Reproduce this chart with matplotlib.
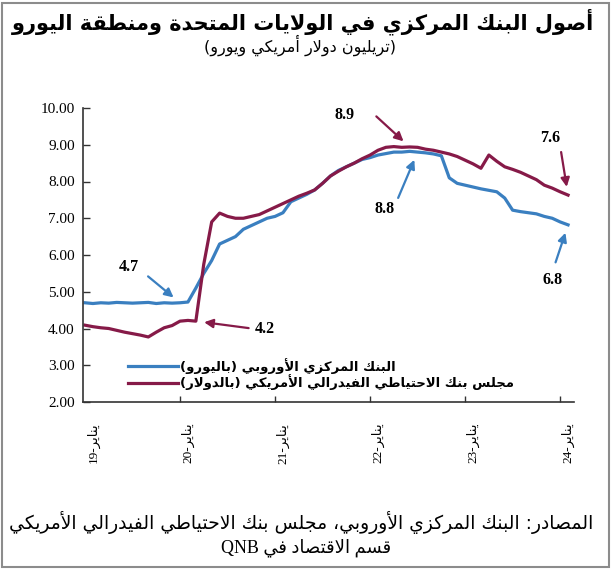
import re
import matplotlib
matplotlib.use('Agg')
import matplotlib.pyplot as plt
from matplotlib.patches import Rectangle

# --- data (trillions, monthly Jan-2019 .. Feb-2024) ---
ecb = [4.70, 4.68, 4.70, 4.69, 4.71, 4.70, 4.69, 4.70, 4.71, 4.68, 4.70, 4.69,
       4.70, 4.72, 5.10, 5.50, 5.85, 6.30, 6.40, 6.50, 6.70, 6.80, 6.90, 7.00,
       7.05, 7.15, 7.45, 7.55, 7.65, 7.77, 7.95, 8.15, 8.30, 8.40, 8.50, 8.60,
       8.65, 8.72, 8.76, 8.80, 8.80, 8.82, 8.80, 8.78, 8.75, 8.70, 8.10, 7.95,
       7.90, 7.85, 7.80, 7.76, 7.72, 7.55, 7.22, 7.18, 7.15, 7.12, 7.05, 7.00,
       6.90, 6.82]
fed = [4.09, 4.05, 4.02, 4.00, 3.95, 3.90, 3.86, 3.82, 3.77, 3.90, 4.02, 4.08,
       4.20, 4.22, 4.20, 5.75, 6.90, 7.14, 7.05, 7.00, 7.00, 7.05, 7.10, 7.20,
       7.30, 7.40, 7.50, 7.60, 7.68, 7.77, 7.95, 8.15, 8.28, 8.40, 8.50, 8.62,
       8.72, 8.85, 8.93, 8.95, 8.93, 8.94, 8.93, 8.88, 8.85, 8.80, 8.75, 8.68,
       8.58, 8.48, 8.36, 8.72, 8.55, 8.40, 8.33, 8.25, 8.15, 8.05, 7.90, 7.82,
       7.72, 7.63]
months = list(range(len(ecb)))
year_labels = ['يناير-19', 'يناير-20', 'يناير-21', 'يناير-22', 'يناير-23', 'يناير-24']
y_ticks = [2, 3, 4, 5, 6, 7, 8, 9, 10]

title = 'أصول البنك المركزي في الولايات المتحدة ومنطقة اليورو'
subtitle = '(تريليون دولار أمريكي ويورو)'
ecb_label = 'البنك المركزي الأوروبي (باليورو)'
fed_label = 'مجلس بنك الاحتياطي الفيدرالي الأمريكي (بالدولار)'
source_1 = 'المصادر: البنك المركزي الأوروبي، مجلس بنك الاحتياطي الفيدرالي الأمريكي'
source_2 = 'قسم الاقتصاد في QNB'

BLUE = '#3a7fc0'
RED = '#861a48'

# --- minimal Arabic shaping + right-to-left ordering (matplotlib does neither) ---
# letter -> (isolated form in Presentation Forms-B, joining: 0 none, 1 right, 2 dual)
FORMS = {
    'ء': (0xFE80, 0), 'آ': (0xFE81, 1), 'أ': (0xFE83, 1), 'ؤ': (0xFE85, 1), 'إ': (0xFE87, 1),
    'ئ': (0xFE89, 2), 'ا': (0xFE8D, 1), 'ب': (0xFE8F, 2), 'ة': (0xFE93, 1), 'ت': (0xFE95, 2),
    'ث': (0xFE99, 2), 'ج': (0xFE9D, 2), 'ح': (0xFEA1, 2), 'خ': (0xFEA5, 2), 'د': (0xFEA9, 1),
    'ذ': (0xFEAB, 1), 'ر': (0xFEAD, 1), 'ز': (0xFEAF, 1), 'س': (0xFEB1, 2), 'ش': (0xFEB5, 2),
    'ص': (0xFEB9, 2), 'ض': (0xFEBD, 2), 'ط': (0xFEC1, 2), 'ظ': (0xFEC5, 2), 'ع': (0xFEC9, 2),
    'غ': (0xFECD, 2), 'ف': (0xFED1, 2), 'ق': (0xFED5, 2), 'ك': (0xFED9, 2), 'ل': (0xFEDD, 2),
    'م': (0xFEE1, 2), 'ن': (0xFEE5, 2), 'ه': (0xFEE9, 2), 'و': (0xFEED, 1), 'ى': (0xFEEF, 1),
    'ي': (0xFEF1, 2),
}
LAM_ALEF = {'آ': 0xFEF5, 'أ': 0xFEF7, 'إ': 0xFEF9, 'ا': 0xFEFB}
MIRROR = {'(': ')', ')': '('}


def ar(text):
    out = []
    i, n = 0, len(text)
    while i < n:
        c = text[i]
        if c not in FORMS:
            out.append(c)
            i += 1
            continue
        joins_prev = i > 0 and FORMS.get(text[i - 1], (0, 0))[1] == 2
        if c == 'ل' and i + 1 < n and text[i + 1] in LAM_ALEF:
            out.append(chr(LAM_ALEF[text[i + 1]] + int(joins_prev)))
            i += 2
            continue
        base, kind = FORMS[c]
        joins_next = kind == 2 and i + 1 < n and FORMS.get(text[i + 1], (0, 0))[1] > 0
        if kind == 0:
            form = 0
        elif joins_prev and joins_next:
            form = 3
        elif joins_prev:
            form = 1
        elif joins_next:
            form = 2
        else:
            form = 0
        out.append(chr(base + form))
        i += 1
    tokens = re.findall(r'[A-Za-z0-9.]+|.', ''.join(out))
    return ''.join(MIRROR.get(t, t) for t in reversed(tokens))


plt.rcParams['font.family'] = ['DejaVu Sans']
SERIF = ['Liberation Serif', 'DejaVu Sans']

fig = plt.figure(figsize=(6.12, 5.70), dpi=100)
W, H = 612, 570
ax = fig.add_axes([83 / W, 1 - 402 / H, 491 / W, 294 / H])

ax.plot(months, ecb, color=BLUE, lw=2.3, label=ar(ecb_label), solid_joinstyle='round')
ax.plot(months, fed, color=RED, lw=2.3, label=ar(fed_label), solid_joinstyle='round')

ax.set_ylim(2, 10)
ax.set_xlim(-0.25, 61.75)
ax.set_yticks(y_ticks)
ax.set_yticklabels([f'{v:.2f}' for v in y_ticks], family=SERIF, fontsize=11)
ax.tick_params(axis='y', direction='in', length=5, width=1, pad=6, colors='#333333',
               labelcolor='black')

# tick marks each January, labels sit a little to the right of them
ax.set_xticks([12 * k for k in range(1, 6)], minor=True)
ax.set_xticks([12 * k + 1 for k in range(6)])
ax.set_xticklabels([ar(s) for s in year_labels], rotation=90, family=SERIF, fontsize=9.5)
ax.tick_params(axis='x', which='major', length=0, pad=15)
ax.tick_params(axis='x', which='minor', direction='in', length=4, width=1, colors='#333333')

for side in ['top', 'right']:
    ax.spines[side].set_visible(False)
for side in ['left', 'bottom']:
    ax.spines[side].set_color('#333333')
    ax.spines[side].set_linewidth(1.2)

# annotations: (series, month index, colour, text, arrow tail offset, label offset) in points
notes = [
    (ecb, 12, BLUE, '4.7', (-23, 19), (-37, 26)),
    (fed, 14, RED, '4.2', (38, -5), (50, -6)),
    (fed, 41, RED, '8.9', (-24, 22), (-47, 23)),
    (ecb, 42, BLUE, '8.8', (-14, -33), (-24, -41)),
    (fed, 61, RED, '7.6', (-5, 31), (-13, 41)),
    (ecb, 61, BLUE, '6.8', (-9, -27), (-11, -40)),
]
for series, m, col, txt, tail, lab in notes:
    ax.annotate('', xy=(m, series[m]), xytext=tail, textcoords='offset points',
                arrowprops=dict(arrowstyle='-|>', color=col, lw=1.6, mutation_scale=13,
                                shrinkA=0, shrinkB=6))
    ax.annotate(txt, xy=(m, series[m]), xytext=lab, textcoords='offset points',
                ha='center', va='center', family=SERIF, fontweight='bold', fontsize=11.5)

leg = ax.legend(loc='upper left', bbox_to_anchor=(128 / W, 1 - 358 / H),
                bbox_transform=fig.transFigure, frameon=False,
                prop={'size': 9.5, 'weight': 'bold'},
                handlelength=3.8, handletextpad=0.15, labelspacing=0.05, borderpad=0,
                borderaxespad=0)

fig.text(0.495, 1 - 22 / H, ar(title), ha='center', va='center', fontsize=15,
         fontweight='bold')
fig.text(0.49, 1 - 45 / H, ar(subtitle), ha='center', va='center', fontsize=11.5)
fig.text(0.492, 1 - 523 / H, ar(source_1), ha='center', va='center', fontsize=13.5)
fig.text(0.5, 1 - 548 / H, ar(source_2), ha='center', va='center', fontsize=13,
         family=['Liberation Serif', 'DejaVu Sans'])

fig.patches.append(Rectangle((2 / W, 3 / H), 607 / W, 564 / H, transform=fig.transFigure,
                             fill=False, ec='#8c8c8c', lw=1.5))

fig.savefig('out.png', dpi=100)
